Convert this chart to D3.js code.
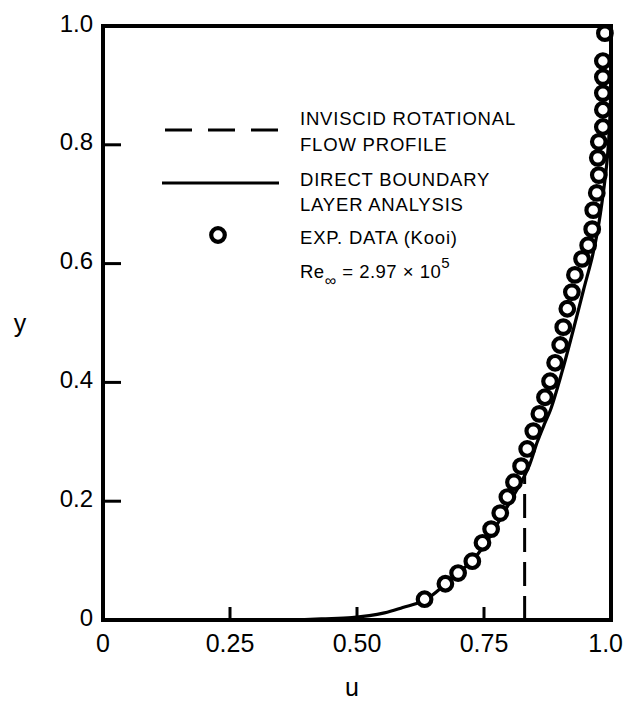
<!DOCTYPE html>
<html>
<head>
<meta charset="utf-8">
<script src="https://cdn.jsdelivr.net/npm/d3@7"></script>
<style>
  html, body { margin: 0; padding: 0; background: #fff; }
  svg { display: block; }
  text { font-family: "Liberation Sans", Arial, Helvetica, sans-serif; fill: #000; }
</style>
</head>
<body>
<svg id="chart" width="626" height="701"></svg>
<script>
// ---- data ----
const uTicks = [0, 0.25, 0.5, 0.75, 1.0];
const uTickLabels = ["0", "0.25", "0.50", "0.75", "1.0"];
const yTicks = [0, 0.2, 0.4, 0.6, 0.8, 1.0];
const yTickLabels = ["0", "0.2", "0.4", "0.6", "0.8", "1.0"];

// experimental data (Kooi)
const expU = [0.988,0.984,0.984,0.984,0.984,0.984,0.976,0.974,0.976,0.972,0.965,0.963,0.955,0.943,0.929,0.923,0.914,0.906,0.900,0.890,0.880,0.870,0.859,0.847,0.835,0.823,0.809,0.796,0.782,0.764,0.747,0.727,0.699,0.674,0.633];
const expY = [0.988,0.941,0.914,0.887,0.859,0.830,0.805,0.778,0.749,0.719,0.690,0.658,0.631,0.608,0.581,0.552,0.524,0.493,0.463,0.433,0.402,0.375,0.347,0.318,0.288,0.259,0.232,0.207,0.180,0.153,0.130,0.099,0.079,0.061,0.035];

// direct boundary layer analysis
const blU = [0.375,0.43,0.49,0.554,0.59,0.633,0.674,0.699,0.727,0.75,0.772,0.792,0.812,0.828,0.84,0.855,0.869,0.881,0.903,0.922,0.946,0.963,0.973,0.985,0.993,0.998,1.0,1.0];
const blY = [0,0.002,0.004,0.012,0.021,0.033,0.06,0.079,0.10,0.125,0.155,0.185,0.215,0.24,0.262,0.30,0.33,0.354,0.416,0.476,0.556,0.611,0.652,0.72,0.78,0.85,0.92,1.0];

// inviscid rotational flow profile
const invU = [0.83, 0.83, 0.84];
const invY = [0, 0.25, 0.262];

// legend entries
const legendLines = [
  ["INVISCID ROTATIONAL", "FLOW PROFILE"],
  ["DIRECT BOUNDARY", "LAYER ANALYSIS"],
  ["EXP. DATA (Kooi)"]
];

// ---- drawing ----
const svg = d3.select("#chart");
const x = d3.scaleLinear().domain([0, 1]).range([103, 611]);
const y = d3.scaleLinear().domain([0, 1]).range([620, 26]);

const g = svg.append("g");

// curves
const line = d3.line().x(d => x(d[0])).y(d => y(d[1])).curve(d3.curveCatmullRom.alpha(0.5));
g.append("path")
  .datum(blU.map((u, i) => [u, blY[i]]))
  .attr("d", line)
  .attr("fill", "none").attr("stroke", "#000").attr("stroke-width", 3.2);

g.append("path")
  .datum(invU.map((u, i) => [u, invY[i]]))
  .attr("d", d3.line().x(d => x(d[0])).y(d => y(d[1])))
  .attr("fill", "none").attr("stroke", "#000").attr("stroke-width", 3)
  .attr("stroke-dasharray", "24,10");

// circles
g.selectAll("circle.exp")
  .data(expU.map((u, i) => [u, expY[i]]))
  .enter().append("circle")
  .attr("class", "exp")
  .attr("cx", d => x(d[0])).attr("cy", d => y(d[1]))
  .attr("r", 6.8)
  .attr("fill", "#fff").attr("stroke", "#000").attr("stroke-width", 4.2);

// frame
g.append("rect")
  .attr("x", x(0)).attr("y", y(1))
  .attr("width", x(1) - x(0)).attr("height", y(0) - y(1))
  .attr("fill", "none").attr("stroke", "#000").attr("stroke-width", 4);

// y ticks (inward)
g.selectAll("line.ytick")
  .data(yTicks.filter(t => t > 0 && t < 1))
  .enter().append("line")
  .attr("x1", x(0)).attr("x2", x(0) + 18)
  .attr("y1", d => y(d)).attr("y2", d => y(d))
  .attr("stroke", "#000").attr("stroke-width", 3);

// x ticks (inward)
g.selectAll("line.xtick")
  .data(uTicks.filter(t => t > 0 && t < 1))
  .enter().append("line")
  .attr("x1", d => x(d)).attr("x2", d => x(d))
  .attr("y1", y(0)).attr("y2", y(0) - 13)
  .attr("stroke", "#000").attr("stroke-width", 3);

// tick labels
g.selectAll("text.ylab")
  .data(yTicks)
  .enter().append("text")
  .attr("x", 93).attr("y", d => y(d) - 3)
  .attr("text-anchor", "end").attr("dominant-baseline", "central")
  .attr("font-size", 24)
  .text((d, i) => yTickLabels[i]);

g.selectAll("text.xlab")
  .data(uTicks)
  .enter().append("text")
  .attr("x", d => d === 1 ? 623 : x(d))
  .attr("y", 652)
  .attr("text-anchor", d => d === 1 ? "end" : "middle")
  .attr("font-size", 25)
  .text((d, i) => uTickLabels[i]);

// axis titles
svg.append("text").attr("x", 352).attr("y", 696).attr("text-anchor", "middle")
  .attr("font-size", 25).text("u");
svg.append("text").attr("x", 20).attr("y", 332).attr("text-anchor", "middle")
  .attr("font-size", 25).text("y");

// legend
const lg = svg.append("g");
lg.append("line").attr("x1", 165).attr("x2", 279).attr("y1", 130).attr("y2", 130)
  .attr("stroke", "#000").attr("stroke-width", 3).attr("stroke-dasharray", "27,16");
lg.append("line").attr("x1", 162).attr("x2", 279).attr("y1", 183).attr("y2", 183)
  .attr("stroke", "#000").attr("stroke-width", 3);
lg.append("circle").attr("cx", 218).attr("cy", 235).attr("r", 6.8)
  .attr("fill", "#fff").attr("stroke", "#000").attr("stroke-width", 4.2);

const baselines = [[125, 151], [186, 211], [244]];
legendLines.forEach((lines, i) => {
  lines.forEach((t, j) => {
    lg.append("text").attr("x", 300).attr("y", baselines[i][j])
      .attr("font-size", 18.5).attr("letter-spacing", 0.8).text(t);
  });
});

// Reynolds number annotation
const re = lg.append("text").attr("x", 300).attr("y", 278).attr("font-size", 18.5).attr("letter-spacing", 0.5);
re.append("tspan").text("Re");
re.append("tspan").attr("dy", 8).attr("font-size", 16).text("\u221E");
re.append("tspan").attr("dy", -8).text(" = 2.97 \u00D7 10");
re.append("tspan").attr("dy", -10).attr("font-size", 15).text("5");
</script>
</body>
</html>
